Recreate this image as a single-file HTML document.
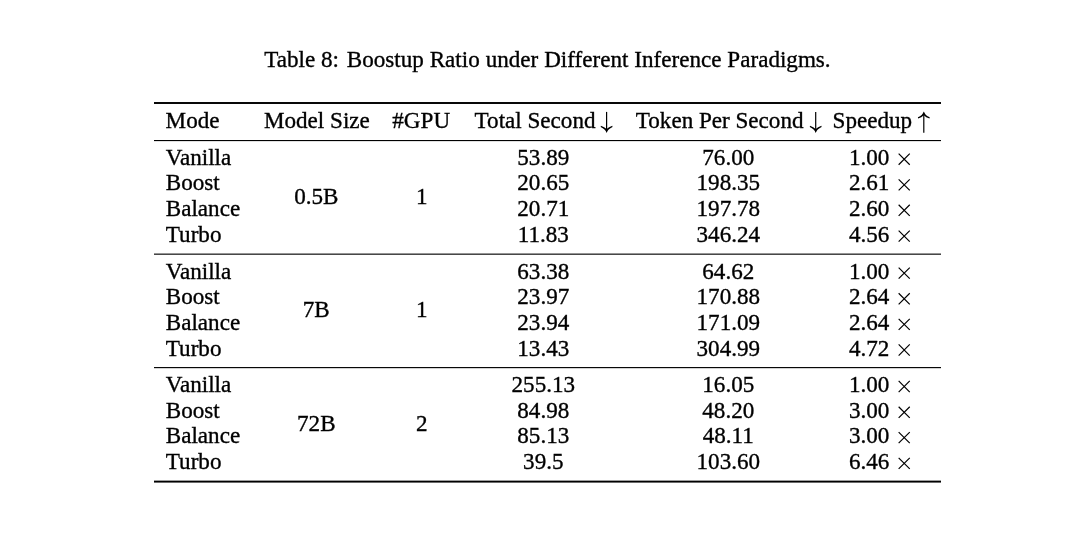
<!DOCTYPE html>
<html><head><meta charset="utf-8">
<style>
html,body{margin:0;padding:0;background:#fff;}
body{width:1080px;height:547px;position:relative;overflow:hidden;font-family:"Liberation Serif",serif;font-size:23.1px;color:#000;-webkit-text-stroke:0.35px #000;}
span{position:absolute;white-space:nowrap;line-height:26.0px;}
span.sp{position:static;display:inline-block;width:1.8px;}
#w{position:absolute;left:0;top:0;width:1080px;height:547px;will-change:transform;}
.c{transform:translateX(-50%);}
.r{position:absolute;left:154px;width:787px;background:#000;}
.a{position:absolute;overflow:visible;}
.a path{stroke:#000;stroke-width:1.2;fill:none;stroke-linecap:round;}
.a path.f{stroke:none;fill:#000;}
</style></head><body>
<div id="w">
<span style="left:264.20px;top:46.00px;word-spacing:0.15px">Table 8:<span class="sp"></span> Boostup Ratio under Different Inference Paradigms.</span>
<div class="r" style="top:102px;height:1px;opacity:0.97"></div>
<div class="r" style="top:103px;height:1px;opacity:0.97"></div>
<div class="r" style="top:140px;height:1px;opacity:1.00"></div>
<div class="r" style="top:141px;height:1px;opacity:0.12"></div>
<div class="r" style="top:253px;height:1px;opacity:0.42"></div>
<div class="r" style="top:254px;height:1px;opacity:0.72"></div>
<div class="r" style="top:367px;height:1px;opacity:0.97"></div>
<div class="r" style="top:368px;height:1px;opacity:0.18"></div>
<div class="r" style="top:480px;height:1px;opacity:0.38"></div>
<div class="r" style="top:481px;height:1px;opacity:1.00"></div>
<div class="r" style="top:482px;height:1px;opacity:0.58"></div>
<span style="left:165.60px;top:107.00px;">Mode</span>
<span class="c" style="left:316.90px;top:107.00px;">Model Size</span>
<span class="c" style="left:421.20px;top:107.00px;">#GPU</span>
<span style="left:474.60px;top:107.00px;">Total Second</span>
<svg class="a" style="left:596px;top:102px" width="20" height="60" viewBox="0 0 20 60"><g transform="translate(10.60,30.60)"><path d="M0,-20.70 L0,-1" style="stroke-linecap:butt"/><path class="f" d="M0,0.3 Q1.3,-3.5 5.9,-5.6 L5.7,-6.8 Q2.1,-5.7 0,-3.5 Q-2.1,-5.7 -5.7,-6.8 L-5.9,-5.6 Q-1.3,-3.5 0,0.3 Z" /></g></svg>
<span style="left:635.80px;top:107.00px;">Token Per Second</span>
<svg class="a" style="left:805px;top:102px" width="20" height="60" viewBox="0 0 20 60"><g transform="translate(10.70,30.60)"><path d="M0,-20.70 L0,-1" style="stroke-linecap:butt"/><path class="f" d="M0,0.3 Q1.3,-3.5 5.9,-5.6 L5.7,-6.8 Q2.1,-5.7 0,-3.5 Q-2.1,-5.7 -5.7,-6.8 L-5.9,-5.6 Q-1.3,-3.5 0,0.3 Z" /></g></svg>
<span style="left:832.60px;top:107.00px;">Speedup</span>
<svg class="a" style="left:913px;top:81px" width="20" height="60" viewBox="0 0 20 60"><g transform="translate(10.80,30.70)"><path d="M0,1 L0,21.00" style="stroke-linecap:butt"/><path class="f" transform="scale(1,-1)" d="M0,0.3 Q1.3,-3.5 5.9,-5.6 L5.7,-6.8 Q2.1,-5.7 0,-3.5 Q-2.1,-5.7 -5.7,-6.8 L-5.9,-5.6 Q-1.3,-3.5 0,0.3 Z" /></g></svg>
<span style="left:165.80px;top:144.00px;">Vanilla</span>
<span class="c" style="left:543.30px;top:144.00px;">53.89</span>
<span class="c" style="left:728.30px;top:144.00px;">76.00</span>
<span style="left:849.00px;top:144.00px;">1.00</span>
<svg class="a" style="left:894px;top:149px" width="20" height="20" viewBox="0 0 20 20"><g transform="translate(10.20,10.20)"><path d="M-5.55,-5.55 L5.55,5.55 M-5.55,5.55 L5.55,-5.55" style="stroke-linecap:butt" /></g></svg>
<span style="left:165.80px;top:169.00px;">Boost</span>
<span class="c" style="left:543.30px;top:169.00px;">20.65</span>
<span class="c" style="left:728.30px;top:169.00px;">198.35</span>
<span style="left:849.00px;top:169.00px;">2.61</span>
<svg class="a" style="left:894px;top:174px" width="20" height="20" viewBox="0 0 20 20"><g transform="translate(10.20,10.90)"><path d="M-5.55,-5.55 L5.55,5.55 M-5.55,5.55 L5.55,-5.55" style="stroke-linecap:butt" /></g></svg>
<span style="left:165.80px;top:195.00px;">Balance</span>
<span class="c" style="left:543.30px;top:195.00px;">20.71</span>
<span class="c" style="left:728.30px;top:195.00px;">197.78</span>
<span style="left:849.00px;top:195.00px;">2.60</span>
<svg class="a" style="left:894px;top:200px" width="20" height="20" viewBox="0 0 20 20"><g transform="translate(10.20,10.30)"><path d="M-5.55,-5.55 L5.55,5.55 M-5.55,5.55 L5.55,-5.55" style="stroke-linecap:butt" /></g></svg>
<span style="left:165.80px;top:221.00px;">Turbo</span>
<span class="c" style="left:543.30px;top:221.00px;">11.83</span>
<span class="c" style="left:728.30px;top:221.00px;">346.24</span>
<span style="left:849.00px;top:221.00px;">4.56</span>
<svg class="a" style="left:894px;top:226px" width="20" height="20" viewBox="0 0 20 20"><g transform="translate(10.20,10.10)"><path d="M-5.55,-5.55 L5.55,5.55 M-5.55,5.55 L5.55,-5.55" style="stroke-linecap:butt" /></g></svg>
<span class="c" style="left:316.30px;top:183.00px;">0.5B</span>
<span class="c" style="left:421.70px;top:183.00px;">1</span>
<span style="left:165.80px;top:258.00px;">Vanilla</span>
<span class="c" style="left:543.30px;top:258.00px;">63.38</span>
<span class="c" style="left:728.30px;top:258.00px;">64.62</span>
<span style="left:849.00px;top:258.00px;">1.00</span>
<svg class="a" style="left:894px;top:263px" width="20" height="20" viewBox="0 0 20 20"><g transform="translate(10.20,10.10)"><path d="M-5.55,-5.55 L5.55,5.55 M-5.55,5.55 L5.55,-5.55" style="stroke-linecap:butt" /></g></svg>
<span style="left:165.80px;top:283.00px;">Boost</span>
<span class="c" style="left:543.30px;top:283.00px;">23.97</span>
<span class="c" style="left:728.30px;top:283.00px;">170.88</span>
<span style="left:849.00px;top:283.00px;">2.64</span>
<svg class="a" style="left:894px;top:288px" width="20" height="20" viewBox="0 0 20 20"><g transform="translate(10.20,10.80)"><path d="M-5.55,-5.55 L5.55,5.55 M-5.55,5.55 L5.55,-5.55" style="stroke-linecap:butt" /></g></svg>
<span style="left:165.80px;top:309.00px;">Balance</span>
<span class="c" style="left:543.30px;top:309.00px;">23.94</span>
<span class="c" style="left:728.30px;top:309.00px;">171.09</span>
<span style="left:849.00px;top:309.00px;">2.64</span>
<svg class="a" style="left:894px;top:314px" width="20" height="20" viewBox="0 0 20 20"><g transform="translate(10.20,10.40)"><path d="M-5.55,-5.55 L5.55,5.55 M-5.55,5.55 L5.55,-5.55" style="stroke-linecap:butt" /></g></svg>
<span style="left:165.80px;top:335.00px;">Turbo</span>
<span class="c" style="left:543.30px;top:335.00px;">13.43</span>
<span class="c" style="left:728.30px;top:335.00px;">304.99</span>
<span style="left:849.00px;top:335.00px;">4.72</span>
<svg class="a" style="left:894px;top:340px" width="20" height="20" viewBox="0 0 20 20"><g transform="translate(10.20,10.00)"><path d="M-5.55,-5.55 L5.55,5.55 M-5.55,5.55 L5.55,-5.55" style="stroke-linecap:butt" /></g></svg>
<span class="c" style="left:316.30px;top:296.00px;">7B</span>
<span class="c" style="left:421.70px;top:296.00px;">1</span>
<span style="left:165.80px;top:371.00px;">Vanilla</span>
<span class="c" style="left:543.30px;top:371.00px;">255.13</span>
<span class="c" style="left:728.30px;top:371.00px;">16.05</span>
<span style="left:849.00px;top:371.00px;">1.00</span>
<svg class="a" style="left:894px;top:376px" width="20" height="20" viewBox="0 0 20 20"><g transform="translate(10.20,10.50)"><path d="M-5.55,-5.55 L5.55,5.55 M-5.55,5.55 L5.55,-5.55" style="stroke-linecap:butt" /></g></svg>
<span style="left:165.80px;top:397.00px;">Boost</span>
<span class="c" style="left:543.30px;top:397.00px;">84.98</span>
<span class="c" style="left:728.30px;top:397.00px;">48.20</span>
<span style="left:849.00px;top:397.00px;">3.00</span>
<svg class="a" style="left:894px;top:402px" width="20" height="20" viewBox="0 0 20 20"><g transform="translate(10.20,10.30)"><path d="M-5.55,-5.55 L5.55,5.55 M-5.55,5.55 L5.55,-5.55" style="stroke-linecap:butt" /></g></svg>
<span style="left:165.80px;top:422.00px;">Balance</span>
<span class="c" style="left:543.30px;top:422.00px;">85.13</span>
<span class="c" style="left:728.30px;top:422.00px;">48.11</span>
<span style="left:849.00px;top:422.00px;">3.00</span>
<svg class="a" style="left:894px;top:427px" width="20" height="20" viewBox="0 0 20 20"><g transform="translate(10.20,10.60)"><path d="M-5.55,-5.55 L5.55,5.55 M-5.55,5.55 L5.55,-5.55" style="stroke-linecap:butt" /></g></svg>
<span style="left:165.80px;top:448.00px;">Turbo</span>
<span class="c" style="left:543.30px;top:448.00px;">39.5</span>
<span class="c" style="left:728.30px;top:448.00px;">103.60</span>
<span style="left:849.00px;top:448.00px;">6.46</span>
<svg class="a" style="left:894px;top:453px" width="20" height="20" viewBox="0 0 20 20"><g transform="translate(10.20,10.40)"><path d="M-5.55,-5.55 L5.55,5.55 M-5.55,5.55 L5.55,-5.55" style="stroke-linecap:butt" /></g></svg>
<span class="c" style="left:316.30px;top:410.00px;">72B</span>
<span class="c" style="left:421.70px;top:410.00px;">2</span>
</div>
</body></html>
